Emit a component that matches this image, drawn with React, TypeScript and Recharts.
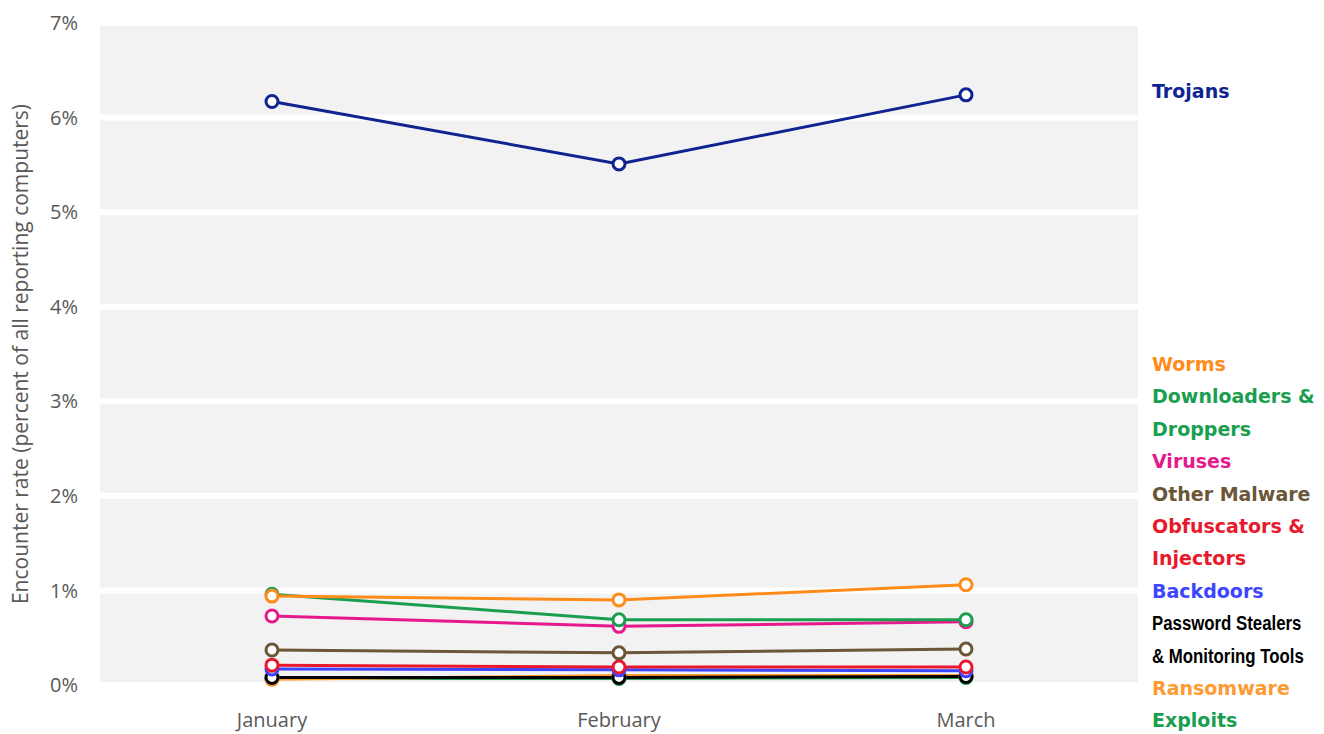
import React from 'react';
import { LineChart, Line, XAxis, YAxis, CartesianGrid } from 'recharts';

// Monthly encounter rates, percent of all reporting computers
const months = ['January', 'February', 'March'];
const trojans = [6.17, 5.51, 6.24];
const worms = [0.94, 0.9, 1.06];
const downloaders = [0.96, 0.69, 0.69];
const viruses = [0.73, 0.62, 0.67];
const otherMalware = [0.37, 0.34, 0.38];
const obfuscators = [0.21, 0.19, 0.19];
const backdoors = [0.17, 0.16, 0.15];
const passwordStealers = [0.08, 0.08, 0.09];
const ransomware = [0.06, 0.1, 0.1];
const exploits = [0.07, 0.07, 0.08];
const yTicks = [0, 1, 2, 3, 4, 5, 6, 7];

// Drawing order: first entries sit underneath
const seriesDefs = [
  { key: 'exploits', values: exploits, color: '#1f9e50' },
  { key: 'ransomware', values: ransomware, color: '#ff9a33' },
  { key: 'passwordStealers', values: passwordStealers, color: '#000000' },
  { key: 'backdoors', values: backdoors, color: '#3c46ff' },
  { key: 'obfuscators', values: obfuscators, color: '#e8192c' },
  { key: 'otherMalware', values: otherMalware, color: '#6b5637' },
  { key: 'viruses', values: viruses, color: '#e6198c' },
  { key: 'downloaders', values: downloaders, color: '#1a9e50' },
  { key: 'worms', values: worms, color: '#ff8c1a' },
  { key: 'trojans', values: trojans, color: '#0f2391' },
];

const data = months.map((m, i) => {
  const row: Record<string, string | number> = { month: m };
  seriesDefs.forEach((s) => {
    row[s.key] = s.values[i];
  });
  return row;
});

// Category names listed beside the plot
const sideLabels = [
  { text: 'Worms', color: '#ff8c1a' },
  { text: 'Downloaders &', color: '#1a9e50' },
  { text: 'Droppers', color: '#1a9e50' },
  { text: 'Viruses', color: '#e6198c' },
  { text: 'Other Malware', color: '#6b5637' },
  { text: 'Obfuscators &', color: '#e8192c' },
  { text: 'Injectors', color: '#e8192c' },
  { text: 'Backdoors', color: '#3c46ff' },
  { text: 'Password Stealers', color: '#000000', narrow: true },
  { text: '& Monitoring Tools', color: '#000000', narrow: true },
  { text: 'Ransomware', color: '#ff9a33' },
  { text: 'Exploits', color: '#1a9e50' },
];

const axisFont = "'Open Sans', 'Noto Sans', sans-serif";
const labelFont = "'DejaVu Sans', sans-serif";
const narrowFont = "'Liberation Sans', Arial, sans-serif";

export default function App() {
  return (
    <div style={{ position: 'absolute', left: 0, top: 0, width: 1324, height: 734, background: '#ffffff' }}>
      <LineChart width={1324} height={734} data={data} margin={{ top: 23, right: 186, bottom: 0, left: 0 }}>
        <CartesianGrid fill="#f2f2f2" stroke="#ffffff" strokeWidth={6} vertical={false} />
        <XAxis
          dataKey="month"
          height={49}
          padding={{ left: 172, right: 172 }}
          axisLine={false}
          tickLine={false}
          tickSize={0}
          tickMargin={28}
          tick={{ fill: '#595959', fontSize: 20, fontFamily: axisFont }}
        />
        <YAxis
          width={100}
          domain={[0, 7]}
          ticks={yTicks}
          axisLine={false}
          tickLine={false}
          tickSize={0}
          tickMargin={22}
          tickFormatter={(v: number) => `${v}%`}
          tick={{ fill: '#595959', fontSize: 20, fontFamily: axisFont }}
          label={{
            value: 'Encounter rate (percent of all reporting computers)',
            angle: -90,
            position: 'insideLeft',
            offset: 21,
            style: { textAnchor: 'middle', fill: '#595959', fontSize: 21, fontFamily: axisFont },
          }}
        />
        {seriesDefs.map((s) => (
          <Line
            key={s.key}
            dataKey={s.key}
            stroke={s.color}
            strokeWidth={3}
            dot={{ r: 6, fill: '#ffffff', stroke: s.color, strokeWidth: 3 }}
            activeDot={false}
            isAnimationActive={false}
          />
        ))}
      </LineChart>
      <div
        style={{
          position: 'absolute',
          left: 1152,
          top: 78,
          fontFamily: labelFont,
          fontWeight: 'bold',
          fontSize: 19,
          color: '#0f2391',
          lineHeight: '26px',
          whiteSpace: 'nowrap',
        }}
      >
        Trojans
      </div>
      <div style={{ position: 'absolute', left: 1152, top: 348, whiteSpace: 'nowrap' }}>
        {sideLabels.map((l) => (
          <div
            key={l.text}
            style={{
              fontFamily: l.narrow ? narrowFont : labelFont,
              fontWeight: 'bold',
              fontSize: l.narrow ? 20 : 19,
              color: l.color,
              height: 32.4,
              lineHeight: '32.4px',
              transform: l.narrow ? 'scaleX(0.84)' : undefined,
              transformOrigin: 'left center',
            }}
          >
            {l.text}
          </div>
        ))}
      </div>
    </div>
  );
}
